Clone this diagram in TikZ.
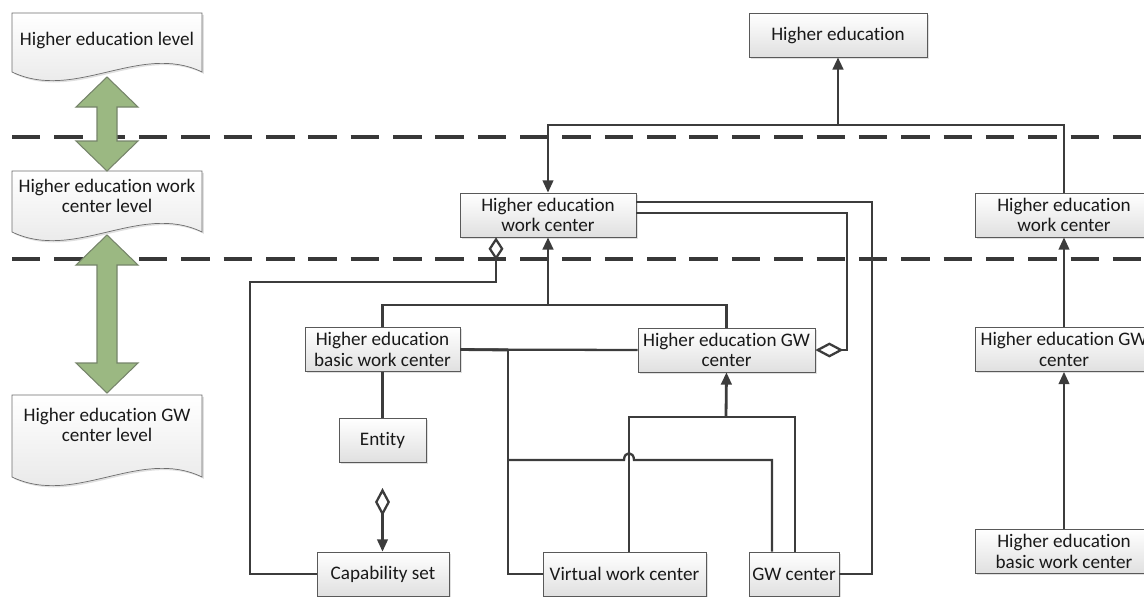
\documentclass[tikz,border=0pt]{standalone}
\usepackage{fontspec}
\setmainfont{Carlito}[Ligatures=NoCommon]
\usetikzlibrary{arrows.meta,calc,shadows}

\definecolor{linegray}{RGB}{60,60,60}
\definecolor{boxgray}{RGB}{224,224,224}
\definecolor{arrowgreen}{RGB}{155,184,130}
\definecolor{arrowedge}{RGB}{118,132,106}

\begin{document}
\begin{tikzpicture}[x=0.02cm,y=-0.02cm,
  every node/.style={font=\fontsize{10.9}{11.5}\selectfont,text=black!90},
  box/.style={draw=linegray!85,top color=white,bottom color=boxgray,minimum height=0.88cm,
    inner sep=1pt,align=center,
    drop shadow={fill=black,opacity=0.12,shadow xshift=1pt,shadow yshift=-1pt}},
  lvldoc/.style={draw=linegray!75,top color=white,bottom color=boxgray!85,
    drop shadow={fill=black,opacity=0.12,shadow xshift=1pt,shadow yshift=-1pt}},
  bigarrow/.style={fill=arrowgreen,draw=arrowedge,line width=0.6pt},
  dashline/.style={draw=black!78,line width=2.3pt,dash pattern=on 16.2pt off 7.9pt},
  conn/.style={draw=linegray,line width=1.3pt},
  arr/.style={-{Triangle[length=7pt,width=6pt]}},
  agg/.style={{Diamond[open,length=#1,width=8.5pt]}-}]
  \useasboundingbox (0,0) rectangle (1144,596);

  \draw[dashline] (12,137) -- (1160,137);
  \draw[dashline] (12,259) -- (1160,259);

  % level documents with wavy bottom
  \foreach \t/\b in {13/72,171/232,395/477}
    \path[lvldoc] (12,\t) -- (202,\t) -- (202,\b) .. controls (140,\b-30) and (75,\b+30) .. (12,\b) -- cycle;
  \node (lvlhe) at (107,40) {Higher education level};
  \node[align=center] (lvlwc) at (107,196) {Higher education work\\center level};
  \node[align=center] (lvlgw) at (107,425) {Higher education GW\\center level};

  \foreach \ya/\yb in {77/171,235/393}
    \filldraw[bigarrow] (107,\ya) -- (138,\ya+30) -- (117,\ya+30) -- (117,\yb-30) -- (138,\yb-30)
      -- (107,\yb) -- (76,\yb-30) -- (97,\yb-30) -- (97,\ya+30) -- (76,\ya+30) -- cycle;

  \node[box,minimum width=3.56cm] (hetop) at (838,35) {Higher education};
  \node[box,minimum width=3.52cm] (hewc) at (548,215) {Higher education\\work center};
  \node[box,minimum width=3.56cm] (hewcR) at (1064,215) {Higher education\\work center};
  \node[box,minimum width=3.1cm] (basic) at (382.5,349.5) {Higher education\\basic work center};
  \node[box,minimum width=3.54cm] (hegw) at (726.5,350) {Higher education GW\\center};
  \node[box,minimum width=3.56cm] (hegwR) at (1064,349.5) {Higher education GW\\center};
  \node[box,minimum width=3.56cm] (basicR) at (1064,551.5) {Higher education\\basic work center};
  \node[box,minimum width=1.74cm] (entity) at (382.5,440) {Entity};
  \node[box,minimum width=2.64cm] (capset) at (383,574) {Capability set};
  \node[box,minimum width=3.26cm] (virtual) at (624.5,574) {Virtual work center};
  \node[box,minimum width=1.8cm] (gw) at (794,574) {GW center};

  \coordinate (jtop) at (838,125);
  \coordinate (jmid) at (548,305);
  \coordinate (jbus) at (508,350);
  \coordinate (jgw) at (726,417);
  \coordinate (capagg) at (382.5,488);

  \draw[conn] (hewcR.north) |- (jtop);
  \draw[conn,arr] (jtop) -| (hewc.north);
  \draw[conn,arr,line width=1.6pt] (jtop) -- (hetop.south);

  \draw[conn] (basic.north) |- (jmid) -| (hegw.north);
  \draw[conn,arr,line width=1.6pt] (jmid) -- (hewc.south);
  \draw[conn,agg=13pt] ($(hewc.south)+(-52,0)$) |- (250,282) |- (capset.west);

  \draw[conn] (basic.south) -- (entity.north);
  \draw[conn,{Diamond[open,length=16pt,width=8.5pt]}-{Triangle[length=7pt,width=6pt]}] (capagg) -- (capagg |- capset.north);

  \draw[conn] (basic.east) -- (hegw.west);
  \draw[conn,line width=1.6pt] (basic.east) -- (jbus);
  \draw[conn] (jbus) |- (virtual.west);
  \draw[conn] (508,460) -- (624,460) .. controls (624,451) and (634,451) .. (634,460) -| ($(gw.north)+(-22,0)$);
  \draw[conn] ($(virtual.north)+(4.5,0)$) |- (jgw) -| ($(gw.north)+(1,0)$);
  \draw[conn,arr,line width=1.6pt] (jgw) -- (hegw.south);

  \draw[conn] (gw.east) -| (872,202) -- ($(hewc.east)+(0,-13)$);
  \draw[conn,agg=16pt] (hegw.east) -| (847,213) -- ($(hewc.east)+(0,-2)$);

  \draw[conn,arr] (basicR.north) -- (hegwR.south);
  \draw[conn,arr] (hegwR.north) -- (hewcR.south);
\end{tikzpicture}
\end{document}
